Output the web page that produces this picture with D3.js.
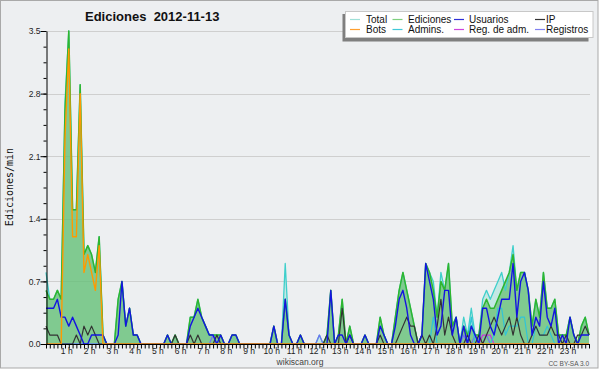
<!DOCTYPE html>
<html>
<head>
<meta charset="utf-8">
<script src="https://cdnjs.cloudflare.com/ajax/libs/d3/7.8.5/d3.min.js"></script>
<style>
    body { margin: 0; background: #fff; }
    svg { display: block; }
</style>
</head>
<body>
<div id="chart"></div>
<script>
// 10-minute slots over the day, values in edits per minute
const total = [
    0.8, 0.5, 0.5, 0.6, 0.5, 2.7, 3.5, 1.5, 1.5, 2.9, 1.0, 1.1,
    1.0, 0.8, 1.2, 0.1, 0, 0, 0, 0.5, 0.7, 0.2, 0.4, 0.1,
    0.1, 0, 0, 0, 0, 0, 0, 0, 0.1, 0, 0.1, 0,
    0, 0, 0.3, 0.3, 0.5, 0.3, 0.2, 0.1, 0.1, 0.1, 0.1, 0,
    0, 0.1, 0.1, 0, 0, 0, 0, 0, 0, 0, 0, 0,
    0.2, 0, 0, 0.9, 0.1, 0, 0, 0.1, 0, 0, 0, 0,
    0.1, 0, 0.1, 0.6, 0, 0.1, 0.5, 0, 0.2, 0, 0, 0,
    0.1, 0, 0, 0, 0.3, 0.1, 0, 0, 0.3, 0.6, 0.8, 0.6,
    0.4, 0.2, 0, 0.1, 0.9, 0.8, 0.7, 0.3, 0.8, 0.6, 0.9, 0.2,
    0.3, 0, 0.3, 0.1, 0.4, 0.1, 0.1, 0.5, 0.6, 0.5, 0.6, 0.7,
    0.8, 0.6, 0.8, 1.1, 0.6, 0.8, 0.8, 0.6, 0.2, 0.5, 0.3, 0.8,
    0.4, 0.4, 0.5, 0.1, 0.1, 0.1, 0.3, 0.1, 0, 0.2, 0.3, 0.1
];
const ediciones = [
    0.6, 0.5, 0.5, 0.6, 0.5, 2.6, 3.5, 1.5, 1.5, 2.9, 1.0, 1.1,
    1.0, 0.8, 1.2, 0.1, 0, 0, 0, 0.5, 0.7, 0.2, 0.4, 0.1,
    0.1, 0, 0, 0, 0, 0, 0, 0, 0.1, 0, 0.1, 0,
    0, 0, 0.3, 0.3, 0.5, 0.3, 0.2, 0.1, 0.1, 0.1, 0.1, 0,
    0, 0.1, 0.1, 0, 0, 0, 0, 0, 0, 0, 0, 0,
    0.2, 0, 0, 0.5, 0.1, 0, 0, 0.1, 0, 0, 0, 0,
    0, 0, 0.1, 0.6, 0, 0.1, 0.5, 0, 0.2, 0, 0, 0,
    0.1, 0, 0, 0, 0.3, 0.1, 0, 0, 0.3, 0.6, 0.8, 0.6,
    0.4, 0.2, 0, 0.1, 0.9, 0.8, 0.6, 0.3, 0.7, 0.6, 0.9, 0.2,
    0.3, 0, 0.2, 0.1, 0.2, 0.1, 0.1, 0.4, 0.5, 0.4, 0.4, 0.5,
    0.6, 0.7, 0.8, 1.0, 0.6, 0.8, 0.8, 0.6, 0.2, 0.5, 0.3, 0.8,
    0.4, 0.4, 0.5, 0.1, 0.1, 0.1, 0.3, 0.1, 0, 0.2, 0.3, 0.1
];
const usuarios = [
    0.4, 0.4, 0.4, 0.5, 0.3, 0.3, 0.2, 0.3, 0.2, 0.1, 0, 0,
    0.1, 0.1, 0.1, 0.1, 0, 0, 0, 0.1, 0.7, 0.2, 0.4, 0.1,
    0.1, 0, 0, 0, 0, 0, 0, 0, 0.1, 0, 0, 0,
    0, 0, 0.2, 0.3, 0.4, 0.3, 0.2, 0.1, 0.1, 0, 0.1, 0,
    0, 0.1, 0.1, 0, 0, 0, 0, 0, 0, 0, 0, 0,
    0.2, 0, 0, 0.5, 0.1, 0, 0, 0.1, 0, 0, 0, 0,
    0, 0, 0, 0.6, 0, 0.1, 0.1, 0, 0.1, 0, 0, 0,
    0.1, 0, 0, 0, 0.2, 0.1, 0, 0, 0.2, 0.5, 0.6, 0.4,
    0.1, 0, 0, 0.1, 0.9, 0.7, 0.5, 0.1, 0.2, 0.6, 0.6, 0.1,
    0.3, 0, 0.2, 0, 0.2, 0.1, 0, 0.4, 0.4, 0.2, 0.1, 0.3,
    0.5, 0.5, 0.5, 0.9, 0.3, 0.7, 0.8, 0.6, 0.1, 0.3, 0.2, 0.7,
    0.3, 0.2, 0.4, 0, 0.1, 0, 0.3, 0.1, 0, 0.1, 0.1, 0.1
];
const ip = [
    0.2, 0.1, 0.1, 0.1, 0, 0, 0, 0, 0.1, 0, 0.2, 0.1,
    0.2, 0.1, 0, 0, 0, 0, 0, 0, 0, 0, 0, 0,
    0, 0, 0, 0, 0, 0, 0, 0, 0, 0, 0.1, 0,
    0, 0, 0.1, 0, 0.1, 0, 0, 0, 0, 0.1, 0, 0,
    0, 0, 0, 0, 0, 0, 0, 0, 0, 0, 0, 0,
    0, 0, 0, 0, 0, 0, 0, 0, 0, 0, 0, 0,
    0, 0, 0.1, 0, 0, 0, 0.4, 0, 0.1, 0, 0, 0,
    0, 0, 0, 0, 0.1, 0, 0, 0, 0, 0.1, 0.2, 0.3,
    0.2, 0.2, 0, 0.1, 0, 0.1, 0, 0.2, 0.5, 0.1, 0.3, 0.1,
    0, 0, 0, 0.1, 0, 0, 0.1, 0, 0.1, 0.2, 0.3, 0.2,
    0.1, 0.2, 0.3, 0.1, 0.3, 0.1, 0, 0, 0.1, 0.2, 0.1, 0.1,
    0.1, 0.2, 0.1, 0.1, 0, 0.1, 0, 0, 0.1, 0.1, 0.2, 0.1
];
const bots = [
    0, 0, 0, 0, 0, 2.3, 3.3, 1.2, 1.2, 2.8, 0.8, 1.0,
    0.8, 0.6, 1.1, 0, 0, 0, 0, 0, 0, 0, 0, 0,
    0, 0, 0, 0, 0, 0, 0, 0, 0, 0, 0, 0,
    0, 0, 0, 0, 0, 0, 0, 0, 0, 0, 0, 0,
    0, 0, 0, 0, 0, 0, 0, 0, 0, 0, 0, 0,
    0, 0, 0, 0, 0, 0, 0, 0, 0, 0, 0, 0,
    0, 0, 0, 0, 0, 0, 0, 0, 0, 0, 0, 0,
    0, 0, 0, 0, 0, 0, 0, 0, 0, 0, 0, 0,
    0, 0, 0, 0, 0, 0, 0, 0, 0, 0, 0, 0,
    0, 0, 0, 0, 0, 0, 0, 0, 0, 0, 0, 0,
    0, 0, 0, 0, 0, 0, 0, 0, 0, 0, 0, 0,
    0, 0, 0, 0, 0, 0, 0, 0, 0, 0, 0, 0
];
const admins = [
    0, 0, 0, 0, 0, 0, 0, 0, 0, 0, 0, 0,
    0, 0, 0, 0, 0, 0, 0, 0, 0, 0, 0, 0,
    0, 0, 0, 0, 0, 0, 0, 0, 0, 0, 0, 0,
    0, 0, 0, 0, 0, 0, 0, 0, 0, 0, 0, 0,
    0, 0, 0, 0, 0, 0, 0, 0, 0, 0, 0, 0,
    0, 0, 0, 0, 0, 0, 0, 0, 0, 0, 0, 0,
    0, 0, 0, 0, 0, 0, 0, 0, 0, 0, 0, 0,
    0, 0, 0, 0, 0, 0, 0, 0, 0, 0, 0, 0,
    0, 0, 0, 0, 0, 0, 0.3, 0, 0, 0, 0, 0,
    0, 0, 0, 0, 0.3, 0, 0, 0, 0, 0, 0.1, 0.4,
    0.4, 0.1, 0.2, 0.2, 0.2, 0.3, 0.3, 0, 0, 0.2, 0.1, 0.1,
    0.2, 0.1, 0, 0, 0, 0, 0, 0, 0, 0, 0, 0
];
const regAdm = [
    0, 0, 0, 0, 0, 0, 0, 0, 0, 0, 0, 0,
    0, 0, 0, 0, 0, 0, 0, 0, 0, 0, 0, 0,
    0, 0, 0, 0, 0, 0, 0, 0, 0, 0, 0, 0,
    0, 0, 0, 0, 0, 0, 0, 0, 0, 0, 0, 0,
    0, 0, 0, 0, 0, 0, 0, 0, 0, 0, 0, 0,
    0, 0, 0, 0, 0, 0, 0, 0, 0, 0, 0, 0,
    0, 0, 0, 0, 0, 0, 0, 0, 0, 0, 0, 0,
    0, 0, 0, 0, 0, 0, 0, 0, 0, 0, 0, 0,
    0, 0, 0, 0, 0, 0, 0, 0, 0, 0, 0, 0,
    0, 0, 0, 0, 0, 0, 0, 0.1, 0.1, 0.1, 0, 0,
    0, 0, 0, 0, 0, 0, 0, 0, 0, 0, 0, 0,
    0, 0, 0, 0, 0, 0, 0, 0, 0, 0, 0, 0
];
const registros = [
    0, 0, 0, 0, 0, 0, 0, 0, 0, 0, 0, 0,
    0, 0, 0, 0, 0, 0, 0, 0, 0, 0, 0, 0,
    0, 0, 0, 0, 0, 0, 0, 0, 0, 0, 0, 0,
    0, 0, 0, 0, 0, 0, 0, 0, 0.1, 0, 0, 0,
    0, 0, 0, 0, 0, 0, 0, 0, 0, 0, 0, 0,
    0, 0, 0, 0, 0, 0, 0, 0, 0, 0, 0, 0,
    0.1, 0, 0, 0, 0, 0, 0, 0, 0, 0, 0, 0,
    0, 0, 0, 0, 0, 0, 0, 0, 0, 0, 0, 0,
    0, 0, 0, 0, 0, 0, 0, 0, 0, 0, 0, 0,
    0, 0, 0.1, 0, 0, 0.1, 0, 0, 0.1, 0, 0, 0,
    0, 0, 0, 0, 0, 0, 0, 0, 0, 0, 0, 0,
    0, 0, 0, 0, 0, 0, 0, 0, 0, 0, 0, 0
];

const yTicks = [0, 0.7, 1.4, 2.1, 2.8, 3.5];
const hourLabels = ["1 h", "2 h", "3 h", "4 h", "5 h", "6 h", "7 h", "8 h", "9 h", "10 h", "11 h", "12 h",
    "13 h", "14 h", "15 h", "16 h", "17 h", "18 h", "19 h", "20 h", "21 h", "22 h", "23 h"];

const legendItems = [
    { name: "Total", color: "#9fe0d8", row: 0, col: 0 },
    { name: "Ediciones", color: "#7fd07f", row: 0, col: 1 },
    { name: "Usuarios", color: "#3030d8", row: 0, col: 2 },
    { name: "IP", color: "#333333", row: 0, col: 3 },
    { name: "Bots", color: "#ffa030", row: 1, col: 0 },
    { name: "Admins.", color: "#40c8d8", row: 1, col: 1 },
    { name: "Reg. de adm.", color: "#cc44dd", row: 1, col: 2 },
    { name: "Registros", color: "#8080f0", row: 1, col: 3 }
];

const width = 600, height = 370;
const bg = "#edeff1";
const sans = "'Liberation Sans', Arial, sans-serif";

const svg = d3.select("#chart")
    .append("svg")
    .attr("width", width)
    .attr("height", height);

svg.append("rect")
    .attr("x", 0.5).attr("y", 0.5)
    .attr("width", 597.5).attr("height", 367.5)
    .attr("fill", bg)
    .attr("stroke", "#a9a9a9");

const x = d3.scaleLinear().domain([0, total.length - 1]).range([46, 589]);
const y = d3.scaleLinear().domain([0, 3.5]).range([344, 31]);

// grid
svg.append("g")
    .selectAll("line")
    .data(yTicks.slice(1))
    .enter()
    .append("line")
    .attr("x1", 46).attr("x2", 590)
    .attr("y1", d => Math.round(y(d)) + 0.5)
    .attr("y2", d => Math.round(y(d)) + 0.5)
    .attr("stroke", "#cfcfcf");

const area = d3.area()
    .x((d, i) => x(i))
    .y0(y(0))
    .y1(d => y(d));
const line = d3.line()
    .x((d, i) => x(i))
    .y(d => y(d));

svg.append("path").attr("d", area(total)).attr("fill", "#a8e2dc").attr("fill-opacity", 0.6);
svg.append("path").attr("d", area(ediciones)).attr("fill", "#3cab3c").attr("fill-opacity", 0.5);

const series = [
    { data: total, color: "#3fcfcb", w: 1.3 },
    { data: ediciones, color: "#2fb52f", w: 1.5 },
    { data: registros, color: "#7070f0", w: 1.2 },
    { data: regAdm, color: "#cc33dd", w: 1.2 },
    { data: admins, color: "#30c4d8", w: 1.2 },
    { data: ip, color: "#333333", w: 1.2 },
    { data: usuarios, color: "#1414e0", w: 1.4 },
    { data: bots, color: "#ff9900", w: 1.4 }
];

series.forEach(s => {
    svg.append("path")
        .attr("d", line(s.data))
        .attr("fill", "none")
        .attr("stroke", s.color)
        .attr("stroke-width", s.w)
        .attr("stroke-linejoin", "round");
});

// y axis, major and minor ticks
const yAxis = svg.append("g")
    .attr("transform", "translate(46.5,0)")
    .call(d3.axisLeft(y).tickValues(yTicks).tickFormat(d3.format(".1f")).tickSize(6).tickSizeOuter(0));
svg.append("g")
    .attr("transform", "translate(46.5,0)")
    .call(d3.axisLeft(y).tickValues(d3.range(0, 3.5, 0.175)).tickFormat("").tickSize(3).tickSizeOuter(0))
    .select(".domain").remove();
yAxis.selectAll("text")
    .attr("font-family", sans)
    .attr("font-size", 8.5)
    .attr("fill", "#222")
    .attr("x", -6)
    .attr("dy", "0.35em");

// x axis, one tick per slot
svg.append("g")
    .attr("transform", "translate(0,344.5)")
    .call(d3.axisBottom(x).tickValues(d3.range(total.length)).tickFormat("").tickSize(4).tickSizeOuter(0))
    .select(".domain").attr("d", "M46,0H590");

svg.append("g")
    .selectAll("text")
    .data(hourLabels)
    .enter()
    .append("text")
    .attr("x", (d, i) => x((i + 1) * 6) - 2)
    .attr("y", 353.5)
    .attr("text-anchor", "middle")
    .attr("font-family", sans)
    .attr("font-size", 8.5)
    .attr("fill", "#222")
    .text(d => d);

svg.selectAll(".tick line").attr("stroke", "#000");
svg.selectAll(".domain").attr("stroke", "#000");

// titles
svg.append("text")
    .attr("x", 85).attr("y", 21)
    .attr("font-family", sans)
    .attr("font-size", 13)
    .attr("font-weight", "bold")
    .attr("fill", "#111")
    .attr("xml:space", "preserve")
    .text("Ediciones  2012-11-13");

svg.append("text")
    .attr("transform", "translate(13,187) rotate(-90)")
    .attr("text-anchor", "middle")
    .attr("font-family", "'DejaVu Sans Mono', monospace")
    .attr("font-size", 10)
    .attr("fill", "#111")
    .text("Ediciones/min");

svg.append("text")
    .attr("x", 300).attr("y", 365)
    .attr("text-anchor", "middle")
    .attr("font-family", sans)
    .attr("font-size", 8.5)
    .attr("fill", "#444")
    .text("wikiscan.org");

svg.append("text")
    .attr("x", 589).attr("y", 365.5)
    .attr("text-anchor", "end")
    .attr("font-family", sans)
    .attr("font-size", 6.5)
    .attr("fill", "#555")
    .text("CC BY-SA 3.0");

// legend
const legend = svg.append("g");
legend.append("rect")
    .attr("x", 342.5).attr("y", 14)
    .attr("width", 246).attr("height", 27.5)
    .attr("fill", "#7f7f7f");
legend.append("rect")
    .attr("x", 345.5).attr("y", 11.5)
    .attr("width", 247.5).attr("height", 26)
    .attr("fill", "#fff")
    .attr("stroke", "#c8c8c8");

const colX = [350, 392.5, 454, 535];
const textX = [366, 408, 469, 546];

legendItems.forEach(d => {
    const cy = 19.5 + d.row * 10;
    legend.append("line")
        .attr("x1", colX[d.col]).attr("x2", colX[d.col] + 10)
        .attr("y1", cy).attr("y2", cy)
        .attr("stroke", d.color)
        .attr("stroke-width", 1.2);
    legend.append("text")
        .attr("x", textX[d.col]).attr("y", cy + 3.5)
        .attr("font-family", sans)
        .attr("font-size", 10)
        .attr("fill", "#111")
        .text(d.name);
});
</script>
</body>
</html>
